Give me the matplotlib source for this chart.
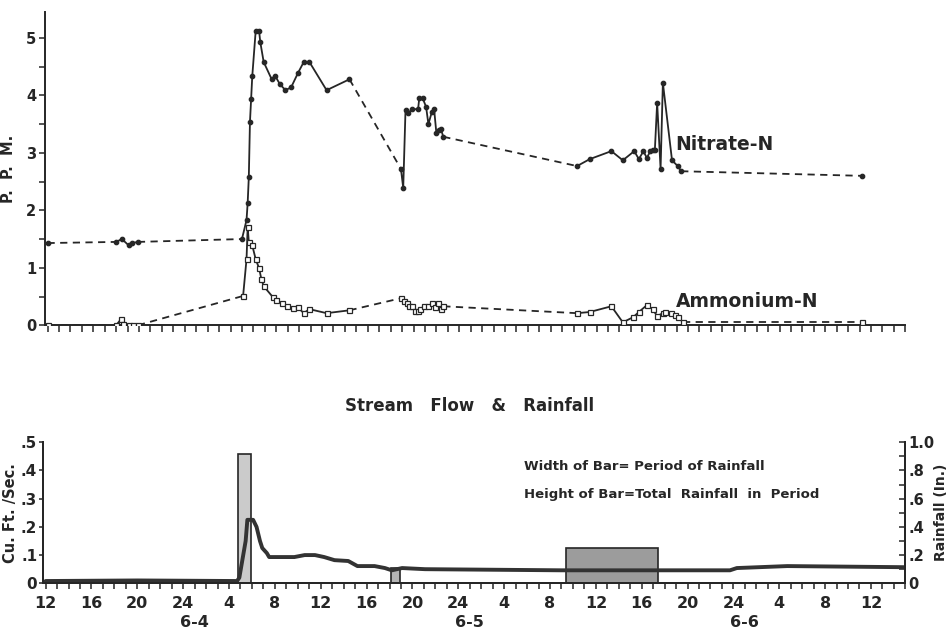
import matplotlib
matplotlib.use("Agg")
import matplotlib.pyplot as plt
import numpy as np

# hours after 12:00 on 6-4
nitrate_hr = [0.0,
              6.0, 6.5, 7.1, 7.4, 7.9,
              17.0, 17.4, 17.5, 17.6, 17.7, 17.8, 17.9, 18.2, 18.5, 18.6, 18.9, 19.6, 19.9,
              20.3, 20.8, 21.3, 21.9, 22.4, 22.9, 24.4, 26.4,
              30.9, 31.1, 31.3, 31.5, 31.9, 32.4, 32.5, 32.8, 33.1, 33.3, 33.6, 33.8, 34.0,
              34.2, 34.4, 34.6,
              46.3, 47.4, 49.3, 50.3, 51.3, 51.7, 52.1, 52.4, 52.7, 52.9, 53.1, 53.3, 53.6,
              53.8, 54.6, 55.1, 55.4,
              71.2]
nitrate_ppm = [1.43,
               1.45, 1.50, 1.39, 1.43, 1.45,
               1.50, 1.83, 2.13, 2.58, 3.54, 3.93, 4.33, 5.12, 5.12, 4.93, 4.58, 4.28, 4.34,
               4.20, 4.09, 4.14, 4.39, 4.58, 4.58, 4.09, 4.28,
               2.72, 2.39, 3.75, 3.69, 3.76, 3.76, 3.95, 3.95, 3.80, 3.50, 3.71, 3.76, 3.34,
               3.40, 3.41, 3.28,
               2.77, 2.89, 3.03, 2.87, 3.03, 2.89, 3.03, 2.91, 3.03, 3.05, 3.05, 3.87, 2.72,
               4.22, 2.87, 2.77, 2.68,
               2.60]
# sampling runs: points inside a run are joined solid, runs are joined dashed
nitrate_run = [0] + [1] * 5 + [2] * 21 + [3] * 16 + [4] * 17 + [5]

ammonium_hr = [0.0,
               6.0, 6.4, 6.6, 7.1, 7.5, 7.9,
               17.1, 17.4, 17.5, 17.6, 17.9, 18.2, 18.5, 18.7, 18.9, 19.7, 20.0, 20.5, 20.9,
               21.5, 21.9, 22.4, 22.9, 24.4, 26.4,
               30.9, 31.2, 31.4, 31.6, 31.9, 32.1, 32.4, 32.6, 32.9, 33.3, 33.6, 33.9, 34.1,
               34.4, 34.6,
               46.3, 47.4, 49.3, 50.3, 51.2, 51.7, 52.4, 52.9, 53.3, 53.8, 54.0, 54.5, 54.9,
               55.1, 55.6,
               71.2]
ammonium_ppm = [0.0,
                0.0, 0.10, 0.03, 0.0, 0.0, 0.0,
                0.51, 1.15, 1.71, 1.45, 1.39, 1.15, 0.99, 0.80, 0.68, 0.49, 0.44, 0.38, 0.33,
                0.30, 0.31, 0.21, 0.28, 0.21, 0.26,
                0.47, 0.42, 0.38, 0.33, 0.33, 0.24, 0.24, 0.28, 0.33, 0.33, 0.38, 0.31, 0.38,
                0.28, 0.33,
                0.21, 0.23, 0.33, 0.05, 0.14, 0.23, 0.35, 0.28, 0.16, 0.21, 0.23, 0.21, 0.17,
                0.14, 0.05,
                0.05]
ammonium_run = [0] + [1] * 6 + [2] * 19 + [3] * 15 + [4] * 15 + [5]

flow_hr = [0, 8, 16.7, 16.9, 17.45, 17.6, 18.1, 18.4, 18.7, 18.9, 19.3, 19.5, 21.7, 22.6,
           23.5, 24.3, 25.2, 26.4, 27.2, 28.7, 29.6, 30.2, 31.1, 33.1, 45.0, 59.7, 60.3,
           64.7, 75.0]
flow_cfs = [0.008, 0.010, 0.008, 0.02, 0.15, 0.225, 0.225, 0.20, 0.15, 0.125, 0.107, 0.093,
            0.093, 0.10, 0.10, 0.093, 0.082, 0.079, 0.061, 0.061, 0.054, 0.046, 0.054, 0.050,
            0.046, 0.046, 0.054, 0.061, 0.057]

rain_start = [16.8, 30.1, 45.4]
rain_end = [17.9, 30.9, 53.4]
rain_in = [0.92, 0.11, 0.25]
rain_fill = ["#cbcbcb", "#b4b4b4", "#9c9c9c"]

hour_labels = ["12", "16", "20", "24", "4", "8", "12", "16", "20", "24",
               "4", "8", "12", "16", "20", "24", "4", "8", "12"]
day_labels = ["6-4", "6-5", "6-6"]
day_pos = [13, 37, 61]

ink = "#262626"
plt.rcParams["font.family"] = "DejaVu Sans"
plt.rcParams["font.weight"] = "bold"
plt.rcParams["axes.labelweight"] = "bold"

fig = plt.figure(figsize=(9.5, 6.34), dpi=100)
ax = fig.add_axes([0.047, 0.487, 0.906, 0.494])
axf = fig.add_axes([0.045, 0.080, 0.908, 0.2224])


def draw_series(x, y, runs, marker, mfc, ms):
    x = np.array(x)
    y = np.array(y)
    runs = np.array(runs)
    ids = sorted(set(runs))
    for k in ids:
        m = runs == k
        ax.plot(x[m], y[m], "-", color=ink, lw=1.3, marker=marker, ms=ms,
                mfc=mfc, mec=ink, mew=0.9, zorder=3)
    for a, b in zip(ids[:-1], ids[1:]):
        i = np.where(runs == a)[0][-1]
        j = np.where(runs == b)[0][0]
        ax.plot([x[i], x[j]], [y[i], y[j]], color=ink, lw=1.3,
                dashes=(4, 3), zorder=2)


draw_series(nitrate_hr, nitrate_ppm, nitrate_run, "o", ink, 3.2)
draw_series(ammonium_hr, ammonium_ppm, ammonium_run, "s", "white", 3.6)

ax.set_xlim(-0.25, 75)
ax.set_ylim(0, 5.45)
ax.set_xticks(np.arange(0, 76, 1))
ax.set_xticklabels([])
ax.set_yticks([0, 1, 2, 3, 4, 5])
ax.set_yticks(np.arange(0.5, 5.5, 1), minor=True)
ax.tick_params(axis="x", direction="out", length=5, width=1.1, color=ink)
ax.tick_params(axis="y", which="both", direction="out", length=4, width=1.1,
               color=ink, labelsize=10.5, labelcolor=ink, pad=2)
for s in ["top", "right"]:
    ax.spines[s].set_visible(False)
for s in ["left", "bottom"]:
    ax.spines[s].set_linewidth(1.4)
    ax.spines[s].set_color(ink)
ax.set_ylabel("P.  P.  M.", fontsize=10.5, color=ink, labelpad=7)
ax.text(54.9, 3.14, "Nitrate-N", fontsize=13.5, color=ink, va="center", ha="left")
ax.text(54.9, 0.42, "Ammonium-N", fontsize=13.5, color=ink, va="center", ha="left")

# stream flow with rainfall bars behind it
axr = axf.twinx()
axr.bar(rain_start, rain_in, width=np.array(rain_end) - np.array(rain_start),
        align="edge", color=rain_fill, edgecolor=ink, linewidth=1.2)
axr.set_ylim(0, 1.0)
axf.set_zorder(axr.get_zorder() + 1)
axf.patch.set_visible(False)

axf.plot(flow_hr, flow_cfs, color="#333333", lw=2.8, solid_capstyle="round")
axf.set_xlim(-0.25, 75)
axf.set_ylim(0, 0.5)
axf.set_xticks(np.arange(0, 73, 4))
axf.set_xticklabels(hour_labels)
axf.set_xticks(np.arange(0, 76, 1), minor=True)
axf.set_yticks([0, 0.1, 0.2, 0.3, 0.4, 0.5])
axf.set_yticklabels(["0", ".1", ".2", ".3", ".4", ".5"])
axf.tick_params(axis="x", which="both", direction="out", length=4, width=1.1,
                color=ink, labelsize=11.5, labelcolor=ink, pad=5)
axf.tick_params(axis="y", direction="out", length=3, width=1.1, color=ink,
                labelsize=11, labelcolor=ink, pad=1)
axr.set_yticks([0, 0.2, 0.4, 0.6, 0.8, 1.0])
axr.set_yticklabels(["0", ".2", ".4", ".6", ".8", "1.0"])
axr.set_yticks(np.arange(0.1, 1.0, 0.2), minor=True)
axr.tick_params(axis="y", which="both", direction="in", length=4, width=1.1,
                color=ink, labelsize=10.5, labelcolor=ink, pad=2)
for a in (axf, axr):
    a.spines["top"].set_visible(False)
    for s in ["left", "bottom", "right"]:
        a.spines[s].set_linewidth(1.4)
        a.spines[s].set_color(ink)
axf.set_ylabel("Cu. Ft. /Sec.", fontsize=10.5, color=ink, labelpad=2)
axr.set_ylabel("Rainfall (In.)", fontsize=10, color=ink, labelpad=0)

for lab, h in zip(day_labels, day_pos):
    axf.text(h, -0.277, lab, fontsize=11.5, color=ink, ha="center", va="center",
             transform=axf.get_xaxis_transform())

axf.text(37, 0.63, "Stream   Flow   &   Rainfall", fontsize=12, color=ink,
         ha="center", va="center")
axf.text(41.7, 0.415, "Width of Bar= Period of Rainfall", fontsize=9.5,
         color=ink, ha="left", va="center")
axf.text(41.7, 0.315, "Height of Bar=Total  Rainfall  in  Period", fontsize=9.5,
         color=ink, ha="left", va="center")

fig.savefig("out.png", dpi=100, facecolor="white")
